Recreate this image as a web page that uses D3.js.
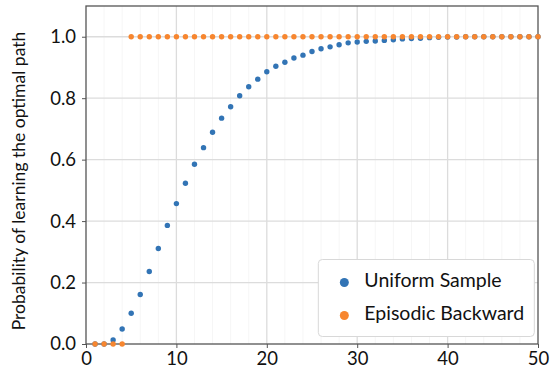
<!DOCTYPE html>
<html>
<head>
<meta charset="utf-8">
<script src="https://cdn.jsdelivr.net/npm/d3@7"></script>
<style>
  body { margin: 0; background: #fff; }
  text { font-family: Lato, "Open Sans", sans-serif; fill: #111; }
</style>
</head>
<body>
<div id="chart"></div>
<script>
// ---- data ----
const steps = d3.range(1, 51);
const uniformSample = [
  0.0, 0.0, 0.013, 0.049, 0.100, 0.161, 0.236, 0.311, 0.386, 0.457,
  0.523, 0.585, 0.639, 0.689, 0.735, 0.772, 0.808, 0.837, 0.862, 0.886,
  0.904, 0.917, 0.931, 0.940, 0.952, 0.961, 0.967, 0.974, 0.980, 0.983,
  0.985, 0.986, 0.988, 0.990, 0.993, 0.994, 0.995, 0.997, 0.998, 0.999,
  0.999, 1.0, 1.0, 1.0, 1.0, 1.0, 1.0, 1.0, 1.0, 1.0
];
const episodicBackward = [
  0, 0, 0, 0, 1, 1, 1, 1, 1, 1,
  1, 1, 1, 1, 1, 1, 1, 1, 1, 1,
  1, 1, 1, 1, 1, 1, 1, 1, 1, 1,
  1, 1, 1, 1, 1, 1, 1, 1, 1, 1,
  1, 1, 1, 1, 1, 1, 1, 1, 1, 1
];
const seriesNames = ["Uniform Sample", "Episodic Backward"];
const seriesColors = ["#3274b5", "#f7862f"];
const xTicks = [0, 10, 20, 30, 40, 50];
const yTicks = [0, 0.2, 0.4, 0.6, 0.8, 1.0];
const yLabel = "Probability of learning the optimal path";

// ---- layout ----
const W = 556, H = 374;
const margin = { top: 6, right: 18, bottom: 30, left: 86 };
const w = W - margin.left - margin.right;
const h = H - margin.top - margin.bottom;

const svg = d3.select("#chart").append("svg")
  .attr("width", W).attr("height", H);
const g = svg.append("g")
  .attr("transform", "translate(" + margin.left + "," + margin.top + ")");

const x = d3.scaleLinear().domain([0, 50]).range([0, w]);
const y = d3.scaleLinear().domain([0, 1.1]).range([h, 0]);

// minor grid (x every 2)
g.append("g").selectAll("line")
  .data(d3.range(2, 50, 2).filter(v => v % 10 !== 0))
  .join("line")
  .attr("x1", d => x(d)).attr("x2", d => x(d))
  .attr("y1", 0).attr("y2", h)
  .attr("stroke", "#f6f6f6").attr("stroke-width", 1);

// major grid
g.append("g").selectAll("line")
  .data(xTicks.slice(1, -1))
  .join("line")
  .attr("x1", d => x(d)).attr("x2", d => x(d))
  .attr("y1", 0).attr("y2", h)
  .attr("stroke", "#dcdcdc").attr("stroke-width", 1.3);
g.append("g").selectAll("line")
  .data(yTicks.slice(1))
  .join("line")
  .attr("x1", 0).attr("x2", w)
  .attr("y1", d => y(d)).attr("y2", d => y(d))
  .attr("stroke", "#dcdcdc").attr("stroke-width", 1.3);

// axes
const xAxis = g.append("g")
  .attr("transform", "translate(0," + h + ")")
  .call(d3.axisBottom(x).tickValues(xTicks).tickFormat(d3.format("d"))
    .tickSizeInner(4).tickSizeOuter(0).tickPadding(4));
const yAxis = g.append("g")
  .call(d3.axisLeft(y).tickValues(yTicks).tickFormat(d3.format(".1f"))
    .tickSizeInner(4).tickSizeOuter(0).tickPadding(6));
[xAxis, yAxis].forEach(a => {
  a.select(".domain").remove();
  a.selectAll("line").attr("stroke", "#555");
  a.selectAll("text").style("font-size", "18.5px").attr("fill", "#111");
});

// frame
g.append("rect")
  .attr("width", w).attr("height", h)
  .attr("fill", "none").attr("stroke", "#555").attr("stroke-width", 1.3);

// points
const series = [uniformSample, episodicBackward];
series.forEach((vals, i) => {
  g.append("g").selectAll("circle")
    .data(steps.map((s, j) => ({ s: s, v: vals[j] })))
    .join("circle")
    .attr("cx", d => x(d.s))
    .attr("cy", d => y(d.v))
    .attr("r", 2.7)
    .attr("fill", seriesColors[i]);
});

// y label
svg.append("text")
  .attr("transform", "translate(21," + 181 + ") rotate(-90)")
  .attr("text-anchor", "middle")
  .attr("dominant-baseline", "middle")
  .style("font-size", "17.5px")
  .text(yLabel);

// legend
const legend = g.append("g")
  .attr("transform", "translate(" + (x(25.7)) + "," + (y(0.275)) + ")");
legend.append("rect")
  .attr("width", 216).attr("height", 77)
  .attr("rx", 4)
  .attr("fill", "#fff")
  .attr("stroke", "#d8d8d8");
seriesNames.forEach((name, i) => {
  const row = legend.append("g")
    .attr("transform", "translate(0," + (23 + i * 33) + ")");
  row.append("circle").attr("cx", 26).attr("cy", 0).attr("r", 4.5)
    .attr("fill", seriesColors[i]);
  row.append("text").attr("x", 46).attr("y", 0)
    .attr("dominant-baseline", "middle")
    .style("font-size", "19.5px")
    .text(name);
});
</script>
</body>
</html>
